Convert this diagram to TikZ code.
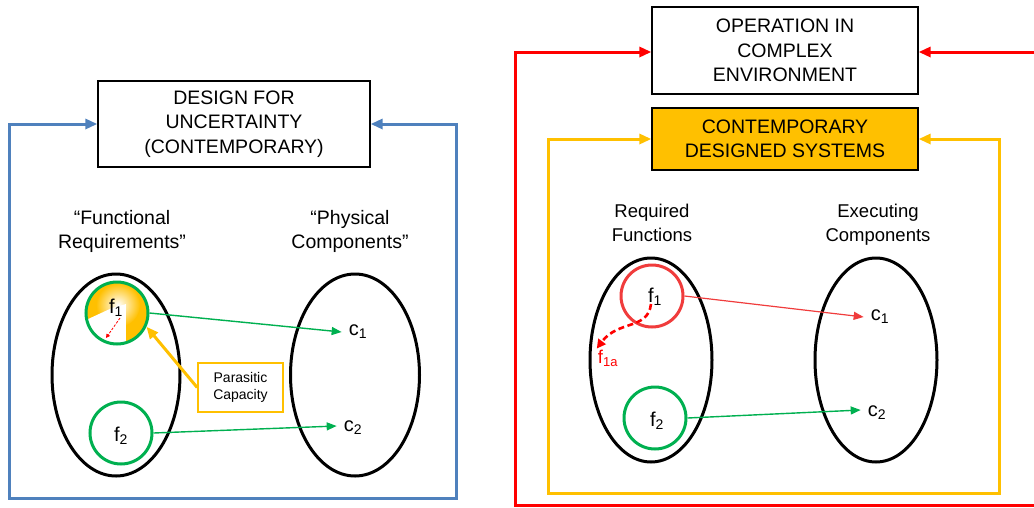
\documentclass[tikz,border=0pt]{standalone}
\usepackage{fontspec}
\setmainfont{Liberation Sans}
\usetikzlibrary{arrows.meta,shapes.geometric}
\definecolor{loopblue}{HTML}{4F81BD}
\definecolor{gold}{HTML}{FFC000}
\definecolor{okgreen}{HTML}{00B050}
\definecolor{alarmred}{HTML}{FF0000}
\definecolor{softred}{HTML}{F03C3C}

\begin{document}
\begin{tikzpicture}[x=1pt,y=1pt,
  titlebox/.style={draw=black, line width=1.3, align=center, inner sep=0,
    font=\fontsize{19.5}{24.5}\selectfont},
  heading/.style={align=center, inner sep=0, font=\fontsize{19.5}{24}\selectfont},
  rheading/.style={align=center, inner sep=0, font=\fontsize{18.5}{24}\selectfont},
  setell/.style={ellipse, draw=black, line width=3, inner sep=0},
  fcirc/.style={circle, line width=3, minimum size=62, inner sep=0},
  elem/.style={inner sep=1, font=\fontsize{20}{22}\selectfont},
  feedback/.style={line width=3, {Triangle[length=12,width=10]}-{Triangle[length=12,width=10]}},
  mapping/.style={line width=1.4, -{Triangle[length=10,width=8]}},
]
\useasboundingbox (0,0) rectangle (1034,-507);

% ---------------- Design for uncertainty ----------------
\node[titlebox, minimum width=272, minimum height=86] (dfu) at (234,-124)
  {DESIGN FOR\\UNCERTAINTY\\(CONTEMPORARY)};
\draw[feedback, loopblue] (dfu.west) -- (9,-124) -- (9,-498) -- (456,-498)
  -- (456,-124) -- (dfu.east);

\node[heading] (frh) at (122,-231) {“Functional\\Requirements”};
\node[heading] (pch) at (350,-231) {“Physical\\Components”};

\node[setell, minimum width=128, minimum height=202] (fr) at (116,-375) {};
\node[setell, minimum width=129, minimum height=202] (pc) at (355,-375) {};

% f1 with its parasitic capacity
\fill[gold] (117,-313) circle (31);
\shade[inner color=white, outer color=gold] (118,-305) circle (22);
\fill[white] (117,-313) ++(192:30) arc (192:287:30) -- (126,-304) -- (112,-308) -- cycle;
\node[fcirc, draw=okgreen] (lf1) at (117,-313) {};
\node[elem] (lf1t) at (116,-308) {f\textsubscript{1}};
\coordinate (drift0) at (120,-318);
\coordinate (drift1) at (106,-338);
\draw[alarmred, line width=0.8, dash pattern=on 2.5 off 1.5,
  -{Triangle[length=4,width=4]}] (drift0) -- (drift1);

\node[fcirc, draw=okgreen] (lf2) at (121,-433) {};
\node[elem] (lf2t) at (121,-436) {f\textsubscript{2}};

\node[elem] (lc1) at (358,-332) {c\textsubscript{1}};
\node[elem] (lc2) at (353,-428) {c\textsubscript{2}};

\draw[mapping, okgreen] (lf1.east) -- ([xshift=-6]lc1.west);
\draw[mapping, okgreen] (lf2.east) -- ([xshift=-6,yshift=2]lc2.west);

\node[draw=gold, line width=1.6, minimum width=85, minimum height=49, align=center,
  inner sep=0, font=\fontsize{14}{17.5}\selectfont] (pcap) at (240.5,-387.5)
  {Parasitic\\Capacity};
\draw[gold, line width=3, -{Triangle[length=12,width=10]}] (pcap.west) -- (lf1.-25);

% ---------------- Contemporary designed systems ----------------
\node[titlebox, minimum width=266, minimum height=87] (op) at (785,-50.5)
  {OPERATION IN\\COMPLEX\\ENVIRONMENT};
\node[titlebox, fill=gold, minimum width=266, minimum height=62] (cds) at (785,-139)
  {CONTEMPORARY\\DESIGNED SYSTEMS};

\coordinate (envout) at (1040,-505);
\coordinate (envin) at (1040,-52);
\draw[alarmred, line width=3, -{Triangle[length=12,width=10]}]
  (envout) -- (515,-505) -- (515,-52) -- (op.west |- 0,-52);
\draw[alarmred, line width=3, -{Triangle[length=12,width=10]}]
  (envin) -- (op.east |- 0,-52);

\draw[feedback, gold] (cds.west) -- (548,-139) -- (548,-493) -- (999,-493)
  -- (999,-139) -- (cds.east);

\node[rheading] (rfh) at (652,-223) {Required\\Functions};
\node[rheading] (ech) at (878,-224.5) {Executing\\Components};

\node[setell, minimum width=122, minimum height=204] (rf) at (651,-360) {};
\node[setell, minimum width=122, minimum height=204] (ec) at (876,-360) {};

\node[fcirc, draw=softred] (rf1) at (652,-296) {};
\node[elem] (rf1t) at (655,-297) {f\textsubscript{1}};
\node[elem, text=alarmred, font=\fontsize{18.5}{20}\selectfont] (rf1a) at (608,-358)
  {f\textsubscript{1a}};
\coordinate (slip0) at (651,-304);
\draw[alarmred, line width=2.6, dash pattern=on 6 off 3.5,
  -{Triangle[length=9,width=9]}]
  (slip0) .. controls (648,-330) and (618,-320) .. (rf1a.north west);

\node[fcirc, draw=okgreen] (rf2) at (655,-418) {};
\node[elem] (rf2t) at (657,-421) {f\textsubscript{2}};

\node[elem] (rc1) at (880,-317) {c\textsubscript{1}};
\node[elem] (rc2) at (877,-413) {c\textsubscript{2}};

\draw[line width=1.2, softred, -{Triangle[length=10,width=8]}]
  (rf1.east) -- ([xshift=-6]rc1.west);
\draw[mapping, okgreen] (rf2.east) -- ([xshift=-6,yshift=3]rc2.west);
\end{tikzpicture}
\end{document}
